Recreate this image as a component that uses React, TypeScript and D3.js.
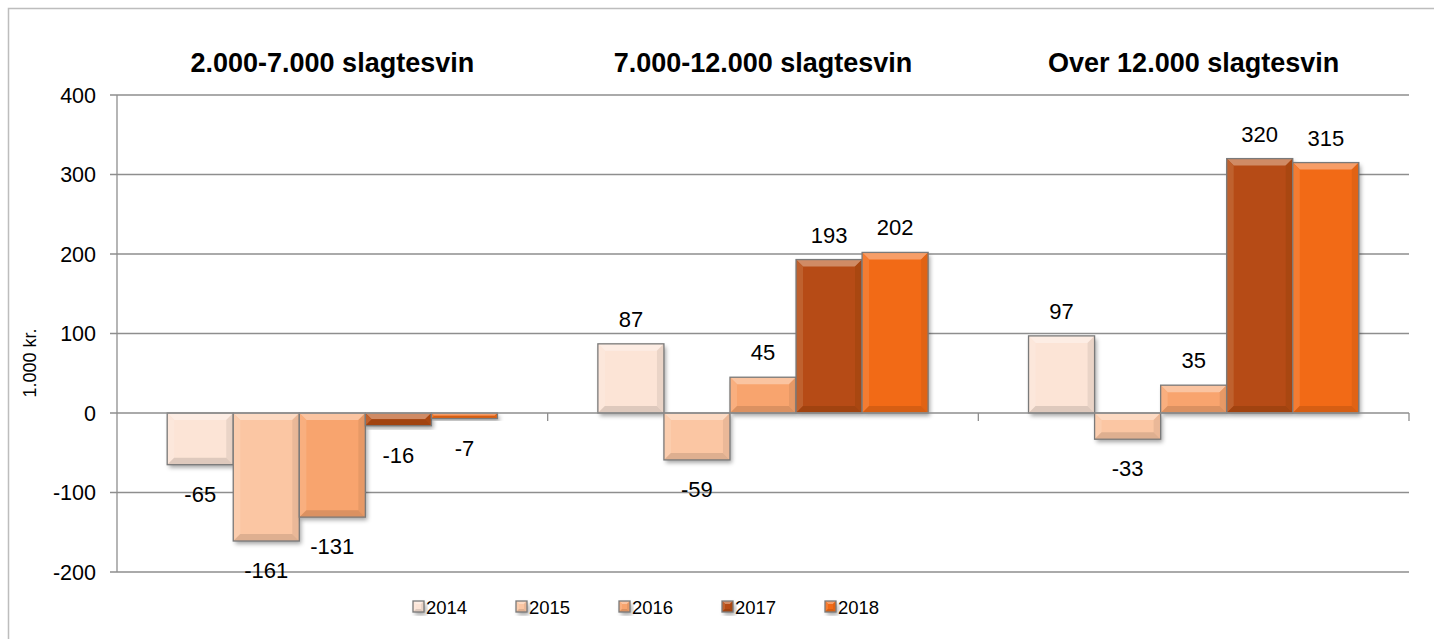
import React, { useEffect, useRef } from "react";
import * as d3 from "d3";

// groups, years and values
const groups = ["2.000-7.000 slagtesvin", "7.000-12.000 slagtesvin", "Over 12.000 slagtesvin"];
const years = ["2014", "2015", "2016", "2017", "2018"];
const v2014 = [-65, 87, 97];
const v2015 = [-161, -59, -33];
const v2016 = [-131, 45, 35];
const v2017 = [-16, 193, 320];
const v2018 = [-7, 202, 315];
const yTicks = [400, 300, 200, 100, 0, -100, -200];
const colors = ["#FCE4D6", "#FBC6A3", "#F8A46E", "#B64C12", "#F26A16"];

const W = 1434;
const H = 639;
const FONT = "Arial, 'Liberation Sans', sans-serif";

export default function App() {
  const ref = useRef<SVGSVGElement>(null);

  useEffect(() => {
    const svg = d3.select(ref.current);
    svg.selectAll("*").remove();

    const series = [v2014, v2015, v2016, v2017, v2018];
    const left = 117, right = 1409, top = 95, bottom = 572;

    const y = d3.scaleLinear().domain([-200, 400]).range([bottom, top]);
    const x0 = d3.scaleBand().domain(groups).range([left, right]).paddingInner(0).paddingOuter(0);
    const x1 = d3.scaleBand().domain(years).range([0, x0.bandwidth()]).paddingInner(0).paddingOuter(0.76);

    const defs = svg.append("defs");
    const f = defs.append("filter").attr("id", "shadow")
      .attr("x", "-20%").attr("y", "-20%").attr("width", "150%").attr("height", "150%");
    f.append("feDropShadow").attr("dx", 2).attr("dy", 3).attr("stdDeviation", 2)
      .attr("flood-color", "#000").attr("flood-opacity", 0.35);

    // outer frame
    svg.append("rect").attr("x", 8.5).attr("y", 8.5).attr("width", W).attr("height", H)
      .attr("fill", "#fff").attr("stroke", "#bdbdbd").attr("stroke-width", 1.5);

    // gridlines
    svg.append("g").selectAll("line").data(yTicks.filter(d => d !== 0)).enter().append("line")
      .attr("x1", left - 7).attr("x2", right)
      .attr("y1", d => y(d)).attr("y2", d => y(d))
      .attr("stroke", "#8e8e8e").attr("stroke-width", 1.3);

    svg.append("g").selectAll("text").data(yTicks).enter().append("text")
      .attr("x", 96).attr("y", d => y(d) + 7.5)
      .attr("text-anchor", "end").attr("font-family", FONT).attr("font-size", 21.5)
      .attr("fill", "#000").text(d => d);

    svg.append("text")
      .attr("transform", `translate(36,363) rotate(-90)`)
      .attr("text-anchor", "middle").attr("font-family", FONT).attr("font-size", 18)
      .text("1.000 kr.");

    // titles
    svg.append("g").selectAll("text").data(groups).enter().append("text")
      .attr("x", d => (x0(d) as number) + x0.bandwidth() / 2).attr("y", 72)
      .attr("text-anchor", "middle").attr("font-family", FONT).attr("font-size", 27)
      .attr("font-weight", "bold").text(d => d);

    const drawBar = (g: d3.Selection<SVGGElement, unknown, null, undefined>,
      bx: number, by: number, bw: number, bh: number, color: string, bev: number) => {
      const bar = g.append("g");
      bar.append("rect").attr("x", bx).attr("y", by).attr("width", bw).attr("height", bh)
        .attr("fill", color).attr("filter", "url(#shadow)");
      const b = Math.min(bev, bh / 2, bw / 2);
      const x2 = bx + bw, y2 = by + bh;
      const c = d3.color(color) as d3.RGBColor;
      const light = d3.interpolateRgb(color, "#ffffff")(0.35);
      const dark = c.darker(0.35).formatHex();
      bar.append("path").attr("d", `M${bx},${by}L${x2},${by}L${x2 - b},${by + b}L${bx + b},${by + b}Z`)
        .attr("fill", light);
      bar.append("path").attr("d", `M${bx},${by}L${bx + b},${by + b}L${bx + b},${y2 - b}L${bx},${y2}Z`)
        .attr("fill", d3.interpolateRgb(color, "#ffffff")(0.12));
      bar.append("path").attr("d", `M${x2},${by}L${x2},${y2}L${x2 - b},${y2 - b}L${x2 - b},${by + b}Z`)
        .attr("fill", d3.interpolateRgb(color, dark)(0.6));
      bar.append("path").attr("d", `M${bx},${y2}L${x2},${y2}L${x2 - b},${y2 - b}L${bx + b},${y2 - b}Z`)
        .attr("fill", dark);
      bar.append("rect").attr("x", bx).attr("y", by).attr("width", bw).attr("height", bh)
        .attr("fill", "none").attr("stroke", "#7a7a7a").attr("stroke-width", 1.3);
    };

    const bars = svg.append("g");
    const labels = svg.append("g");
    groups.forEach((grp, gi) => {
      years.forEach((yr, si) => {
        const v = series[si][gi];
        const bx = (x0(grp) as number) + (x1(yr) as number);
        const by = y(Math.max(0, v));
        const bh = Math.abs(y(v) - y(0));
        drawBar(bars, bx, by, x1.bandwidth(), bh, colors[si], 7);
        labels.append("text")
          .attr("x", bx + x1.bandwidth() / 2)
          .attr("y", v >= 0 ? y(v) - 17 : y(v) + 37)
          .attr("text-anchor", "middle").attr("font-family", FONT).attr("font-size", 22)
          .text(v);
      });
    });

    // zero axis, category ticks and value axis
    svg.append("line").attr("x1", left - 7).attr("x2", right).attr("y1", y(0)).attr("y2", y(0))
      .attr("stroke", "#8e8e8e").attr("stroke-width", 1.3);
    svg.append("g").selectAll("line").data(groups).enter().append("line")
      .attr("x1", d => (x0(d) as number) + x0.bandwidth()).attr("x2", d => (x0(d) as number) + x0.bandwidth())
      .attr("y1", y(0)).attr("y2", y(0) + 8)
      .attr("stroke", "#8e8e8e").attr("stroke-width", 1.3);
    svg.append("line").attr("x1", left).attr("x2", left).attr("y1", top).attr("y2", bottom)
      .attr("stroke", "#8e8e8e").attr("stroke-width", 1.3);

    // legend
    const leg = svg.append("g");
    years.forEach((yr, i) => {
      const lx = 413 + i * 103;
      drawBar(leg, lx, 601, 11, 11, colors[i], 3);
      leg.append("text").attr("x", lx + 13).attr("y", 614)
        .attr("font-family", FONT).attr("font-size", 18.5).text(yr);
    });
  }, []);

  return (
    <svg ref={ref} width={W} height={H}
      style={{ position: "absolute", left: 0, top: 0, display: "block" }} />
  );
}
